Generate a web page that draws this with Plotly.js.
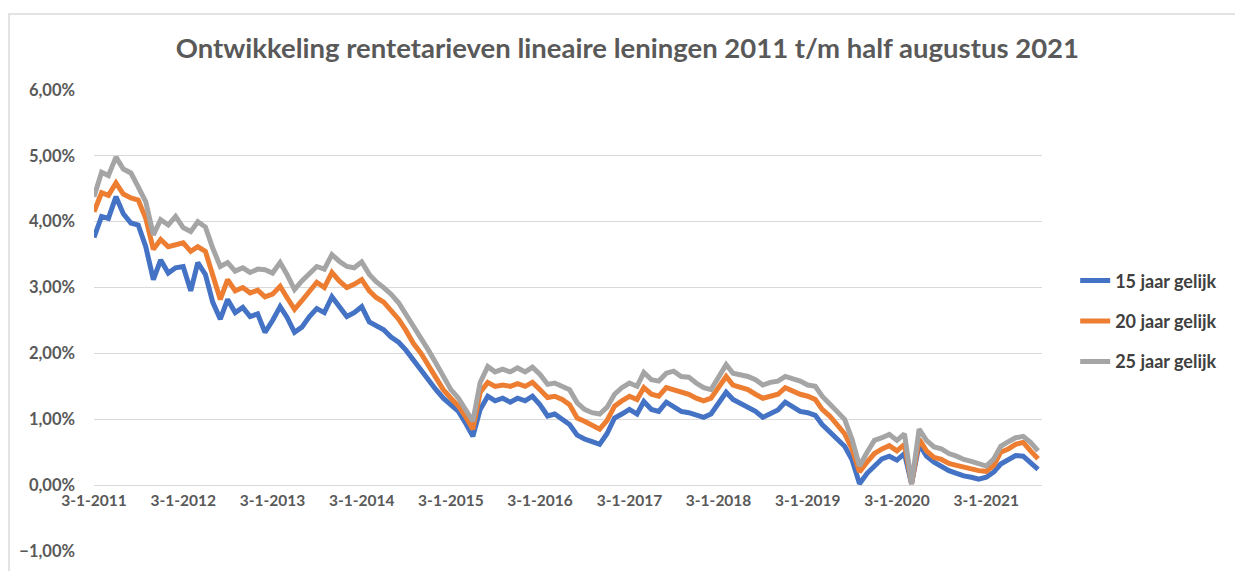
<!DOCTYPE html>
<html>
<head>
<meta charset="utf-8">
<script src="https://cdn.plot.ly/plotly-3.0.1.min.js"></script>
<style>
    body { margin: 0; background: #ffffff; }
    #frame {
        position: absolute; left: 8px; top: 13px; width: 1400px; height: 700px;
        border-left: 2px solid #e3e3e3; border-top: 2px solid #e3e3e3;
    }
    #chart { position: absolute; left: 0; top: 0; width: 1235px; height: 571px; }
</style>
</head>
<body>
<div id="frame"></div>
<div id="chart"></div>
<script>
'use strict';

// series names and colours as in the legend
const seriesNames = ['15 jaar gelijk', '20 jaar gelijk', '25 jaar gelijk'];
const seriesColors = ['#4472C4', '#ED7D31', '#A5A5A5'];

// one reading per month, january 2011 up to august 2021 (percent)
const firstYear = 2011;
const monthCount = 128;

const rate15 = [
    3.76, 4.08, 4.05, 4.38, 4.12, 3.98, 3.95, 3.62, 3.12, 3.42, 3.22, 3.30,
    3.32, 2.95, 3.38, 3.20, 2.78, 2.52, 2.82, 2.62, 2.70, 2.56, 2.60, 2.32,
    2.50, 2.71, 2.55, 2.32, 2.40, 2.56, 2.68, 2.62, 2.86, 2.72, 2.56, 2.62,
    2.71, 2.48, 2.42, 2.36, 2.25, 2.17, 2.05, 1.90, 1.75, 1.58, 1.45, 1.32,
    1.22, 1.12, 0.95, 0.74, 1.15, 1.35, 1.28, 1.32, 1.26, 1.32, 1.28, 1.35,
    1.22, 1.05, 1.08, 1.00, 0.92, 0.76, 0.70, 0.66, 0.62, 0.78, 1.02, 1.08,
    1.15, 1.08, 1.27, 1.15, 1.12, 1.26, 1.18, 1.12, 1.10, 1.06, 1.03, 1.08,
    1.25, 1.41, 1.30, 1.24, 1.20, 1.12, 1.03, 1.08, 1.14, 1.26, 1.18, 1.12,
    1.10, 1.06, 0.92, 0.80, 0.70, 0.59, 0.39, 0.02, 0.18, 0.30, 0.40, 0.44,
    0.38, 0.48, 0.02, 0.62, 0.44, 0.35, 0.29, 0.22, 0.18, 0.14, 0.12, 0.09,
    0.12, 0.20, 0.32, 0.38, 0.45, 0.44, 0.34, 0.24,
];

const rate20 = [
    4.15, 4.44, 4.40, 4.59, 4.42, 4.36, 4.33, 4.05, 3.58, 3.73, 3.62, 3.64,
    3.68, 3.55, 3.62, 3.55, 3.20, 2.82, 3.12, 2.95, 3.00, 2.92, 2.96, 2.86,
    2.90, 3.02, 2.85, 2.67, 2.80, 2.95, 3.08, 3.00, 3.23, 3.10, 3.00, 3.05,
    3.12, 2.95, 2.85, 2.78, 2.65, 2.52, 2.35, 2.15, 2.00, 1.82, 1.65, 1.45,
    1.32, 1.20, 1.05, 0.85, 1.41, 1.56, 1.50, 1.52, 1.50, 1.54, 1.50, 1.56,
    1.45, 1.33, 1.35, 1.30, 1.22, 1.02, 0.97, 0.92, 0.85, 0.98, 1.20, 1.28,
    1.35, 1.30, 1.48, 1.38, 1.35, 1.48, 1.45, 1.40, 1.38, 1.32, 1.28, 1.32,
    1.50, 1.65, 1.52, 1.48, 1.45, 1.38, 1.32, 1.35, 1.38, 1.48, 1.42, 1.38,
    1.35, 1.30, 1.15, 1.05, 0.92, 0.78, 0.55, 0.20, 0.35, 0.48, 0.55, 0.60,
    0.52, 0.62, 0.02, 0.70, 0.52, 0.42, 0.39, 0.33, 0.30, 0.27, 0.25, 0.22,
    0.21, 0.30, 0.50, 0.55, 0.62, 0.65, 0.52, 0.40,
];

const rate25 = [
    4.38, 4.75, 4.70, 4.98, 4.80, 4.74, 4.53, 4.30, 3.80, 4.03, 3.95, 4.08,
    3.91, 3.85, 4.00, 3.92, 3.60, 3.32, 3.38, 3.25, 3.30, 3.23, 3.28, 3.27,
    3.22, 3.38, 3.20, 2.97, 3.10, 3.22, 3.32, 3.28, 3.50, 3.40, 3.32, 3.30,
    3.39, 3.20, 3.09, 3.00, 2.90, 2.77, 2.60, 2.40, 2.22, 2.05, 1.85, 1.65,
    1.45, 1.32, 1.15, 0.97, 1.56, 1.80, 1.72, 1.76, 1.72, 1.78, 1.72, 1.79,
    1.68, 1.53, 1.55, 1.50, 1.45, 1.25, 1.15, 1.10, 1.08, 1.18, 1.38, 1.48,
    1.55, 1.50, 1.71, 1.60, 1.58, 1.70, 1.73, 1.65, 1.64, 1.55, 1.48, 1.45,
    1.65, 1.83, 1.70, 1.68, 1.65, 1.60, 1.52, 1.56, 1.58, 1.65, 1.62, 1.58,
    1.52, 1.50, 1.35, 1.23, 1.10, 1.00, 0.70, 0.29, 0.50, 0.68, 0.72, 0.77,
    0.68, 0.78, 0.02, 0.85, 0.68, 0.58, 0.55, 0.48, 0.44, 0.39, 0.36, 0.32,
    0.29, 0.40, 0.59, 0.66, 0.72, 0.74, 0.65, 0.52,
];

// dates on the 3rd of every month
const dates = [];
for (let i = 0; i < monthCount; i++) {
    const y = firstYear + Math.floor(i / 12);
    const m = (i % 12) + 1;
    dates.push(`${y}-${String(m).padStart(2, '0')}-03`);
}

const font = 'Lato, "Open Sans", sans-serif';
const textColor = '#595959';

const data = [rate15, rate20, rate25].map((ys, i) => ({
    x: dates,
    y: ys,
    name: seriesNames[i],
    legendgroup: 'g' + i,
    type: 'scatter',
    mode: 'lines',
    line: { color: seriesColors[i], width: 5 },
}));

const layout = {
    width: 1235,
    height: 571,
    margin: { l: 94, r: 193, t: 90, b: 20 },
    paper_bgcolor: 'rgba(0,0,0,0)',
    plot_bgcolor: 'rgba(0,0,0,0)',
    separators: ',.',
    font: { family: font, color: textColor },
    title: {
        text: 'Ontwikkeling rentetarieven lineaire leningen 2011 t/m half augustus 2021',
        font: { family: font, size: 27.5, color: textColor, weight: 700 },
        x: 0.508,
        xanchor: 'center',
        y: 0.916,
        yanchor: 'middle',
    },
    xaxis: {
        type: 'date',
        range: ['2011-01-03', '2021-08-19'],
        tick0: '2011-01-03',
        dtick: 'M12',
        tickformat: '%-d-%-m-%Y',
        showgrid: false,
        zeroline: false,
        showline: false,
        ticks: '',
        anchor: 'free',
        position: 1 / 7,
        ticklabelstandoff: 4,
        tickfont: { family: font, size: 15.5, color: textColor, weight: 700 },
    },
    yaxis: {
        range: [-1, 6],
        tick0: 0,
        dtick: 1,
        tickformat: '.2f',
        ticksuffix: '%',
        showgrid: true,
        gridcolor: '#d9d9d9',
        gridwidth: 1,
        zeroline: false,
        showline: false,
        ticks: '',
        ticklabelstandoff: 18,
        tickfont: { family: font, size: 16.5, color: textColor, weight: 700 },
    },
    showlegend: true,
    legend: {
        x: 1.035,
        xanchor: 'left',
        y: 0.498,
        yanchor: 'middle',
        tracegroupgap: 14,
        bgcolor: 'rgba(0,0,0,0)',
        font: { family: font, size: 18, color: '#404040', weight: 700 },
    },
};

Plotly.newPlot('chart', data, layout, { staticPlot: true });
</script>
</body>
</html>
